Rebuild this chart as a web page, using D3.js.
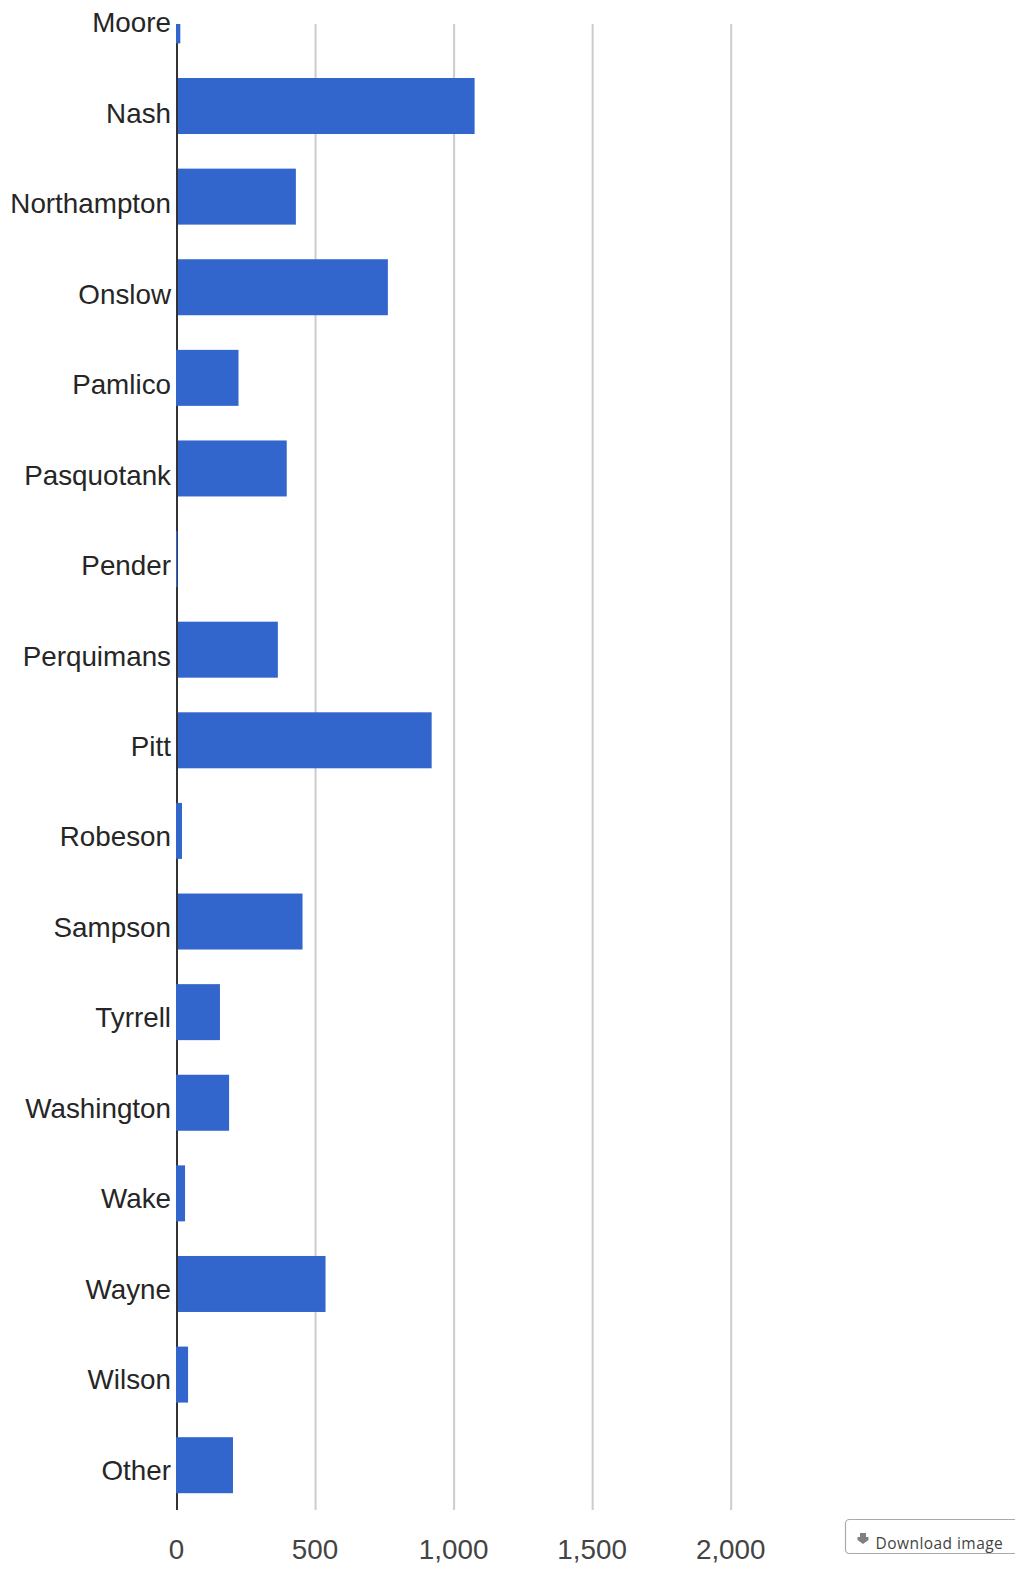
<!DOCTYPE html>
<html><head><meta charset="utf-8">
<script src="https://cdnjs.cloudflare.com/ajax/libs/d3/7.8.5/d3.min.js"></script>
<style>
html,body{margin:0;padding:0;background:#fff;overflow:hidden}
svg{display:block}
text{font-family:"Liberation Sans",Arial,sans-serif}
</style></head><body>
<svg id="c" width="1015" height="1571"></svg>
<script>
const categories=["Moore","Nash","Northampton","Onslow","Pamlico","Pasquotank","Pender","Perquimans","Pitt","Robeson","Sampson","Tyrrell","Washington","Wake","Wayne","Wilson","Other"];
const values=[12,1074,429,761,222,396,1,364,919,18,453,155,188,29,536,40,202];
const ticks=[0,500,1000,1500,2000];
const downloadLabel="Download image";

const svg=d3.select("#c");
const x=d3.scaleLinear().domain([0,2000]).range([177,731.2]);
const yCenter=d3.scalePoint().domain(categories).range([15.4,1465.2]);
const yLabel=d3.scalePoint().domain(categories).range([22,1469.5]);
const plotTop=24,plotBottom=1510,barH=56;

svg.append("defs").append("clipPath").attr("id","plot")
  .append("rect").attr("x",0).attr("y",plotTop).attr("width",1015).attr("height",plotBottom-plotTop);

svg.append("g").selectAll("line").data(ticks.slice(1)).join("line")
  .attr("x1",d=>x(d)).attr("x2",d=>x(d)).attr("y1",plotTop).attr("y2",plotBottom)
  .attr("stroke","#cccccc").attr("stroke-width",2);

svg.append("line").attr("x1",x(0)).attr("x2",x(0)).attr("y1",plotTop).attr("y2",plotBottom)
  .attr("stroke","#333333").attr("stroke-width",2);

// Short bars cover the baseline in the reference; long ones sit just right of it
const barStart=v=>v<300?x(0)-1:x(0)+1;
svg.append("g").attr("clip-path","url(#plot)").selectAll("rect").data(categories).join("rect")
  .attr("x",(d,i)=>barStart(values[i])).attr("y",d=>yCenter(d)-barH/2)
  .attr("width",(d,i)=>x(values[i])-barStart(values[i])).attr("height",barH).attr("fill","#3366cc");

const yAxis=d3.axisLeft(yLabel).tickSize(0).tickPadding(6);
const gy=svg.append("g").attr("transform",`translate(${x(0)},0)`).call(yAxis);
gy.select(".domain").remove();
gy.selectAll("text").attr("font-size",27.8).attr("fill","#262626")
  .attr("font-family",'"Liberation Sans",Arial,sans-serif').attr("dy","0.35em");

const xAxis=d3.axisBottom(x).tickValues(ticks).tickSize(0).tickFormat(d3.format(","));
const gx=svg.append("g").attr("transform","translate(-1,1510)").call(xAxis);
gx.select(".domain").remove();
gx.selectAll("text").attr("font-size",27.8).attr("fill","#444444")
  .attr("font-family",'"Liberation Sans",Arial,sans-serif').attr("y",0).attr("dy",49);

const btn=svg.append("g");
btn.append("rect").attr("x",845.5).attr("y",1519.5).attr("width",200).attr("height",34).attr("rx",4)
  .attr("fill","#fff").attr("stroke","#aaaaaa").attr("stroke-width",1.2);
btn.append("path").attr("d",d3.line()([[860,1533],[860,1537],[857.5,1537],[857.5,1540],[863,1544],[868.5,1540],[868.5,1537],[866,1537],[866,1533]])+"Z")
  .attr("fill","#808080");
btn.append("text").attr("x",875.5).attr("y",1549).attr("font-size",15.5).attr("letter-spacing",0.45)
  .style("font-family",'"Open Sans",sans-serif').attr("fill","#444444").text(downloadLabel);
</script>
</body></html>
